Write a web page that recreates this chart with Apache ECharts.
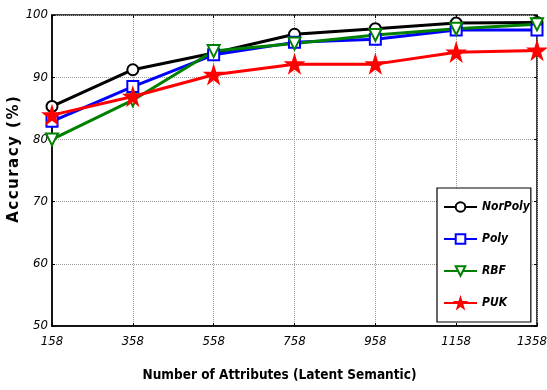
<!DOCTYPE html>
<html><head><meta charset="utf-8">
<script src="https://cdn.jsdelivr.net/npm/echarts@6/dist/echarts.min.js"></script>
<style>html,body{margin:0;padding:0;background:#fff}#c{width:547px;height:390px}</style>
</head><body><div id="c"></div>
<script>
const categories = ['158','358','558','758','958','1158','1358'];
const norPoly = [85.3, 91.2, 93.9, 96.9, 97.8, 98.7, 98.8];
const poly    = [82.9, 88.5, 93.6, 95.6, 96.1, 97.6, 97.6];
const rbf     = [80.0, 86.3, 94.2, 95.4, 96.8, 97.8, 98.5];
const puk     = [83.9, 86.9, 90.4, 92.1, 92.1, 94.0, 94.3];
const yTicks = [50, 60, 70, 80, 90, 100];

const starPath = 'path://M50,0 L61,35 L98,35 L68,57 L79,91 L50,70 L21,91 L32,57 L2,35 L39,35 Z';
const font = '"DejaVu Sans", sans-serif';
const hs = '\u200A';
const yName = 'Accuracy (%)'.split('').join(hs);
const chart = echarts.init(document.getElementById('c'));
const mk = (name, data, color, symbol, size, rot) => ({
  name, type: 'line', data, symbol, symbolSize: size, symbolRotate: rot || 0,
  lineStyle: {color, width: 3}, itemStyle: {color, borderColor: color, borderWidth: 2},
  emphasis: {disabled: true}, z: 3
});
const tickStyle = {show: true, inside: true, length: 3, lineStyle: {color: '#000'}};
chart.setOption({
  animation: false,
  grid: {left: 52, right: 10, top: 15, bottom: 64, show: true, borderColor: '#000', borderWidth: 1.5,
    outerBoundsMode: 'none', containLabel: false},
  legend: {
    orient: 'vertical', left: 437, top: 188, width: 89, height: 134,
    backgroundColor: '#fff', borderColor: '#000', borderWidth: 1.2,
    padding: [13, 1, 13, 6], itemGap: 20, itemWidth: 33, itemHeight: 12,
    textStyle: {fontFamily: font, fontStyle: 'italic', fontWeight: 'bold condensed', fontSize: 12, color: '#000'},
    data: ['NorPoly', 'Poly', 'RBF', 'PUK']
  },
  xAxis: [{
    type: 'category', data: categories, boundaryGap: false,
    name: 'Number of Attributes (Latent Semantic)', nameLocation: 'middle', nameGap: 42,
    nameTextStyle: {fontFamily: font, fontWeight: 'bold condensed', fontSize: 13.5, color: '#000', padding: [0, 30, 0, 0]},
    axisLine: {lineStyle: {color: '#000', width: 1.5}},
    axisTick: tickStyle,
    axisLabel: {fontFamily: font, fontStyle: 'italic', fontWeight: 'normal condensed', fontSize: 13, color: '#000', margin: 9,
      interval: 0,
      formatter: (v, i) => i === categories.length - 1 ? '{r|' + v + '}' : v,
      rich: {r: {fontFamily: font, fontStyle: 'italic', fontWeight: 'normal condensed', fontSize: 13, color: '#000', padding: [0, 10, 0, 0]}}},
    splitLine: {show: true, lineStyle: {color: '#999', type: 'dotted', width: 1}}
  }, {
    type: 'category', data: categories, boundaryGap: false, position: 'top',
    axisLine: {show: false}, axisTick: tickStyle, axisLabel: {show: false}, splitLine: {show: false}
  }],
  yAxis: [{
    type: 'value', min: 50, max: 100, interval: 10,
    name: yName, nameLocation: 'middle', nameGap: 30, nameMoveOverlap: false,
    nameTextStyle: {fontFamily: font, fontWeight: 'bold', fontSize: 15, color: '#000', padding: [0, 0, 0, 22]},
    axisLine: {show: true, lineStyle: {color: '#000', width: 1.5}},
    axisTick: tickStyle,
    axisLabel: {fontFamily: font, fontStyle: 'italic', fontWeight: 'normal condensed', fontSize: 13, color: '#000', margin: 4,
      formatter: v => yTicks.includes(v) ? String(v) : ''},
    splitLine: {show: true, lineStyle: {color: '#999', type: 'dotted', width: 1}}
  }, {
    type: 'value', min: 50, max: 100, interval: 10, position: 'right',
    axisLine: {show: false}, axisTick: tickStyle, axisLabel: {show: false}, splitLine: {show: false}
  }],
  series: [
    mk('NorPoly', norPoly, '#000', 'emptyCircle', 11),
    mk('Poly', poly, '#0000ff', 'emptyRect', 11),
    mk('RBF', rbf, '#008000', 'emptyTriangle', 12, 180),
    mk('PUK', puk, '#ff0000', starPath, 16)
  ]
});
</script></body></html>
